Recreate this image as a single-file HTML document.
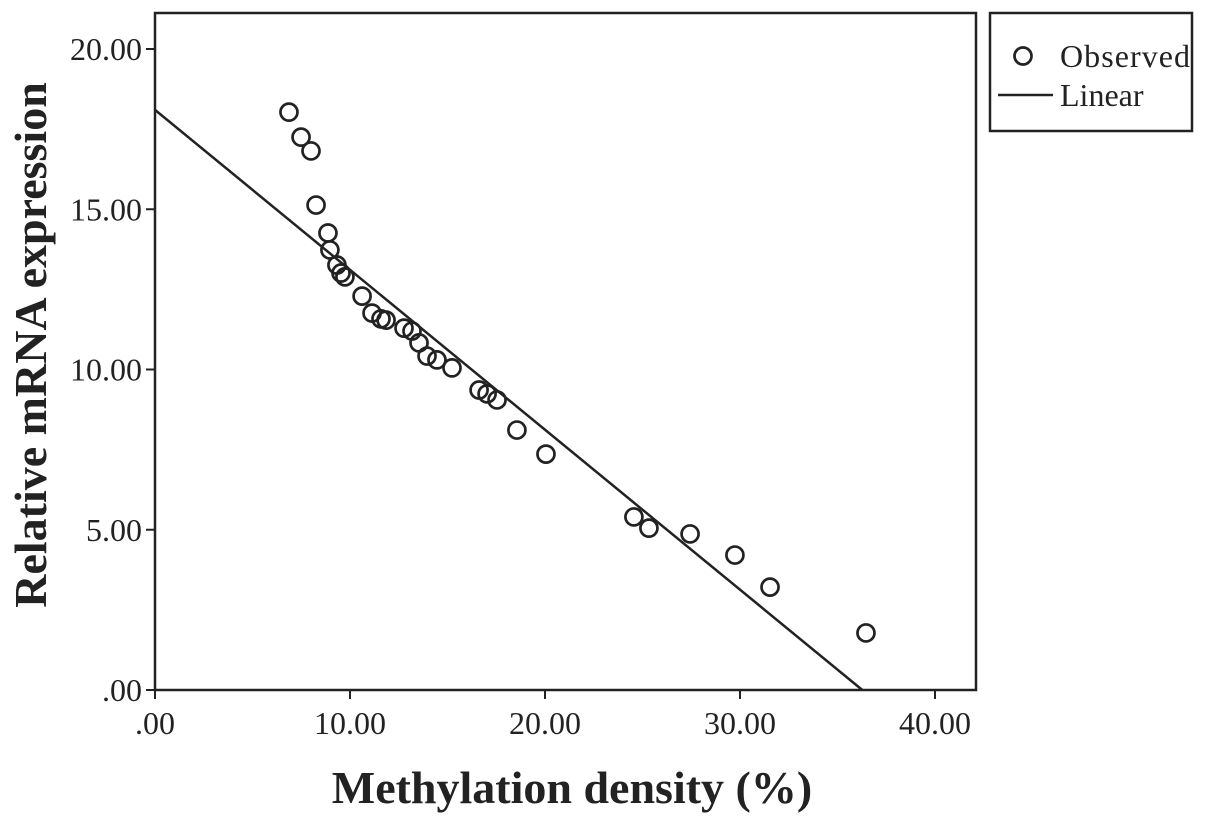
<!DOCTYPE html>
<html><head><meta charset="utf-8"><style>
body{margin:0;background:#fff;}
svg{display:block;font-family:"Liberation Serif",serif;}
</style></head><body>
<svg id="chart" width="1205" height="822">
<rect x="155" y="13" width="821" height="677" fill="none" stroke="#222" stroke-width="2.5"/>
<g id="ticks"></g>
<g id="marks"></g>
<text x="572" y="803" text-anchor="middle" font-size="46" font-weight="bold" fill="#222">Methylation density (%)</text>
<text transform="translate(46,345) rotate(-90)" text-anchor="middle" font-size="46" font-weight="bold" fill="#222">Relative mRNA expression</text>
<g>
<rect x="990" y="13" width="202" height="118" fill="none" stroke="#222" stroke-width="2.5"/>
<circle cx="1023" cy="56" r="8.5" fill="none" stroke="#222" stroke-width="2.7"/>
<text x="1060" y="67" font-size="32" fill="#222" textLength="130">Observed</text>
<line x1="998" y1="95" x2="1053" y2="95" stroke="#222" stroke-width="2.5"/>
<text x="1060" y="106" font-size="32" fill="#222">Linear</text>
</g>
</svg>
<script>
const xTicks=[0,10,20,30,40];
const xTickLabels=[".00","10.00","20.00","30.00","40.00"];
const yTicks=[0,5,10,15,20];
const yTickLabels=[".00","5.00","10.00","15.00","20.00"];
const obsX=[6.87,7.49,8.0,8.26,8.87,8.97,9.33,9.54,9.74,10.62,11.13,11.59,11.85,12.77,13.18,13.54,13.95,14.46,15.23,16.62,17.03,17.54,18.56,20.05,24.56,25.33,27.44,29.74,31.54,36.46];
const obsY=[18.03,17.25,16.82,15.13,14.26,13.73,13.26,13.01,12.89,12.29,11.76,11.58,11.54,11.29,11.2,10.83,10.42,10.30,10.05,9.36,9.24,9.05,8.11,7.36,5.40,5.05,4.87,4.21,3.21,1.78];
const fitIntercept=[18.1];
const fitSlope=[-0.499];
const NS="http://www.w3.org/2000/svg";
const sx=v=>155+v*19.5;
const sy=v=>690-v*32.05;
const ticks=document.getElementById('ticks');
const marks=document.getElementById('marks');
function mk(tag,attrs,parent){const e=document.createElementNS(NS,tag);for(const k in attrs)e.setAttribute(k,attrs[k]);parent.appendChild(e);return e;}
xTicks.forEach((t,i)=>{
 const l=mk('line',{x1:sx(t),x2:sx(t),y1:690,y2:699,stroke:'#222','stroke-width':2},ticks);
 
 
 const tx=mk('text',{x:sx(t),y:734,'text-anchor':'middle','font-size':32,fill:'#222'},ticks);
 tx.textContent=xTickLabels[i];
 
 
});
yTicks.forEach((t,i)=>{
 const l=mk('line',{x1:146,x2:155,y1:sy(t),y2:sy(t),stroke:'#222','stroke-width':2},ticks);
 
 
 const tx=mk('text',{x:142,y:sy(t)+11,'text-anchor':'end','font-size':32,fill:'#222'},ticks);
 tx.textContent=yTickLabels[i];
 
 
});
const xEnd=-fitIntercept[0]/fitSlope[0];
const fl=mk('line',{x1:sx(0),y1:sy(fitIntercept[0]),x2:sx(xEnd),y2:sy(0),stroke:'#222','stroke-width':2.5},marks);


obsX.forEach((x,i)=>{
 const c=mk('circle',{cx:sx(x),cy:sy(obsY[i]),r:8.5,fill:'none',stroke:'#222','stroke-width':2.7},marks);
 
 
});
</script>
</body></html>
